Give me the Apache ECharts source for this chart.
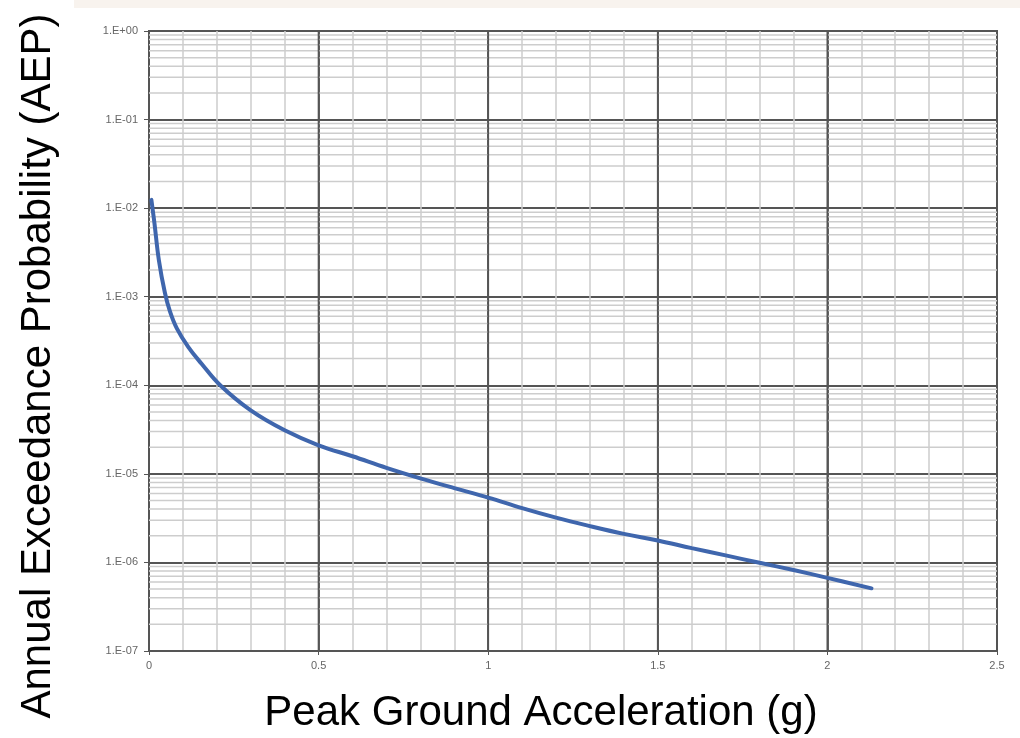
<!DOCTYPE html>
<html><head><meta charset="utf-8">
<script src="https://cdn.jsdelivr.net/npm/echarts@6/dist/echarts.min.js"></script>
<style>html,body{margin:0;padding:0;background:#fff}#c{width:1020px;height:738px}</style>
</head><body><div id="c"></div>
<script>
// Peak ground acceleration (g)
const pga = [0.007, 0.016, 0.029, 0.047, 0.062, 0.082, 0.116, 0.155, 0.21, 0.3, 0.4, 0.5, 0.6, 0.7, 0.8, 0.9, 1.0, 1.1, 1.2, 1.3, 1.4, 1.5, 1.6, 1.7, 1.8, 1.9, 2.0, 2.13];
// Annual exceedance probability
const aep = [1.24e-2, 6.8e-3, 2.6e-3, 1.1e-3, 6.8e-4, 4.4e-4, 2.7e-4, 1.75e-4, 1.0e-4, 5.2e-5, 3.1e-5, 2.1e-5, 1.58e-5, 1.17e-5, 8.9e-6, 6.9e-6, 5.4e-6, 4.1e-6, 3.2e-6, 2.57e-6, 2.1e-6, 1.77e-6, 1.45e-6, 1.2e-6, 9.9e-7, 8.2e-7, 6.7e-7, 5.1e-7];
// Axis ticks
const yDecades = [1e-7, 1e-6, 1e-5, 1e-4, 1e-3, 1e-2, 1e-1, 1];
const yMinorMultipliers = [2, 3, 4, 5, 6, 7, 8, 9];
const xMajor = [0, 0.5, 1, 1.5, 2, 2.5];

const MAJOR = '#555555', MINOR = '#cdcdcd';
const X_MIN = 0, X_MAX = 2.5, Y_MIN = 1e-7, Y_MAX = 1;

const minorY = [];
yDecades.slice(0, -1).forEach(d => yMinorMultipliers.forEach(m => minorY.push(d * m)));

const gridSeries = [];
minorY.forEach(v => gridSeries.push({
  type: 'line', silent: true, symbol: 'none', z: 1, animation: false,
  data: [[X_MIN, v], [X_MAX, v]], lineStyle: { color: MINOR, width: 1.5 }
}));
xMajor.slice(1, -1).forEach(v => gridSeries.push({
  type: 'line', silent: true, symbol: 'none', z: 1, animation: false,
  data: [[v, Y_MIN], [v, Y_MAX]], lineStyle: { color: MAJOR, width: 1.8 }
}));

function fmtY(v) {
  const e = Math.round(Math.log10(v));
  const a = Math.abs(e);
  return '1.E' + (e >= 0 ? '+' : '-') + (a < 10 ? '0' + a : a);
}

const chart = echarts.init(document.getElementById('c'));
chart.setOption({
  animation: false,
  backgroundColor: '#ffffff',
  grid: { left: 149, right: 23, top: 31, bottom: 87, show: true, borderColor: MAJOR, borderWidth: 2, backgroundColor: 'transparent' },
  graphic: [
    { type: 'rect', left: 74, top: 0, shape: { width: 946, height: 8 }, style: { fill: '#f8f3ee' }, silent: true },
    { type: 'text', x: 541, y: 713, style: { text: 'Peak Ground Acceleration (g)', font: '42px "Liberation Sans", Arial, sans-serif', fill: '#000', align: 'center', verticalAlign: 'middle' } },
    { type: 'text', x: 38, y: 366, rotation: Math.PI / 2, style: { text: 'Annual Exceedance Probability (AEP)', font: '42px "Liberation Sans", Arial, sans-serif', fill: '#000', align: 'center', verticalAlign: 'middle' } }
  ],
  xAxis: {
    type: 'value', min: X_MIN, max: X_MAX, interval: 0.5,
    axisLine: { show: true, lineStyle: { color: MAJOR, width: 2 } },
    axisTick: { show: true, length: 4, lineStyle: { color: MAJOR } },
    axisLabel: { color: '#666', fontSize: 11, fontFamily: '"Liberation Sans", Arial, sans-serif', margin: 9, formatter: v => String(v) },
    splitLine: { show: true, lineStyle: { color: MAJOR, width: 1.8 } },
    minorTick: { show: false, splitNumber: 5 },
    minorSplitLine: { show: true, lineStyle: { color: MINOR, width: 1.5 } }
  },
  yAxis: {
    type: 'log', logBase: 10, min: Y_MIN, max: Y_MAX, interval: 1,
    axisLine: { show: true, lineStyle: { color: MAJOR, width: 2 } },
    axisTick: { show: true, length: 5, lineStyle: { color: MAJOR } },
    axisLabel: { color: '#666', fontSize: 11, fontFamily: '"Liberation Sans", Arial, sans-serif', margin: 11, formatter: fmtY },
    splitLine: { show: true, lineStyle: { color: MAJOR, width: 1.8 } },
    minorTick: { show: false },
    minorSplitLine: { show: false }
  },
  series: gridSeries.concat([
    {
      type: 'line', z: 5, showSymbol: false, symbol: 'none', smooth: 0.4,
      data: pga.map((x, i) => [x, aep[i]]),
      lineStyle: { color: '#3f66ad', width: 4, cap: 'round' }
    }
  ])
});
</script></body></html>
